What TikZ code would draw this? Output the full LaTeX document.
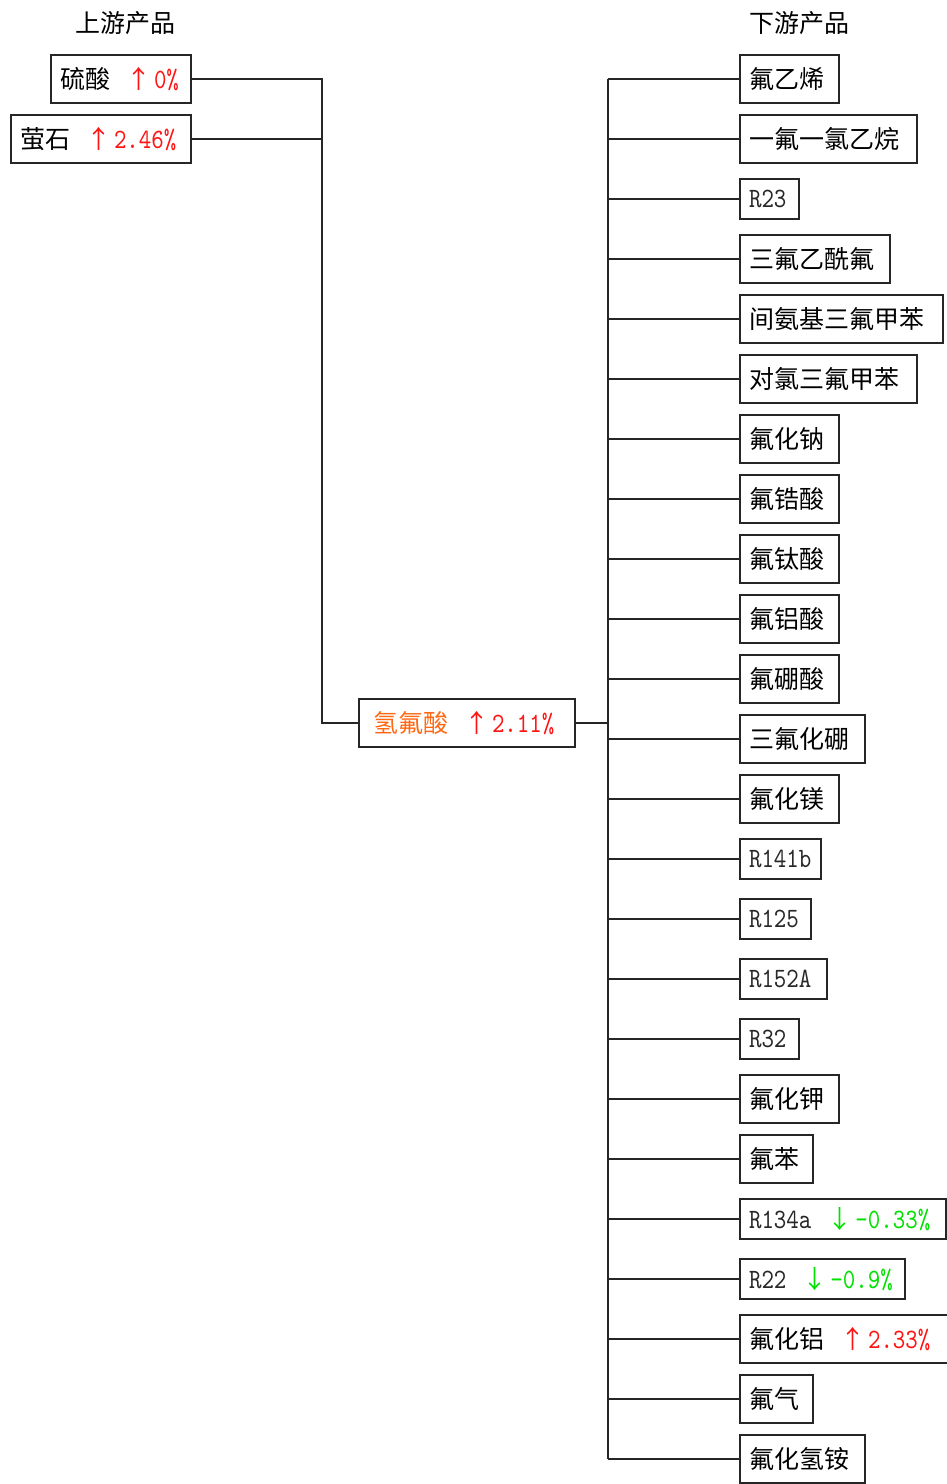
\documentclass[tikz,border=0pt]{standalone}
\usepackage{fontspec}
\setmainfont{Noto Sans CJK SC}
\newfontfamily\latfont[FakeStretch=0.85]{lmmono10-regular.otf}
\definecolor{upred}{RGB}{255,20,20}
\definecolor{dngreen}{RGB}{0,225,0}
\definecolor{hforange}{RGB}{255,105,20}
\definecolor{latgray}{RGB}{40,40,40}
\newcommand\lt[1]{{\latfont\fontsize{28}{30}\selectfont\color{latgray}#1}}
\newcommand\upchg[1]{\hspace{22pt}\makebox[14pt]{\color{upred}↑}\hspace{8pt}{\latfont\fontsize{28}{30}\selectfont\color{upred}#1}}
\newcommand\dnchg[1]{\hspace{22pt}\makebox[14pt]{\color{dngreen}↓}\hspace{8pt}{\latfont\fontsize{28}{30}\selectfont\color{dngreen}#1}}
\begin{document}
\begin{tikzpicture}[x=1pt,y=-1pt,
  font=\fontsize{25}{30}\selectfont,
  box/.style={draw=black!85, line width=2pt, inner xsep=9pt, inner ysep=0pt, anchor=west, minimum height=48pt},
  lbox/.style={box, minimum height=40pt},
  link/.style={draw=black!85, line width=2pt}]
\useasboundingbox (0,0) rectangle (946,1484);
% titles
\node (t1) at (125,23) {上游产品};
\node (t2) at (799,23) {下游产品};
% upstream
\node[box] (s1) at (50,79) {\makebox[122pt][l]{硫酸\upchg{0\%}}};
\node[box] (s2) at (10,139) {\makebox[162pt][l]{萤石\upchg{2.46\%}}};
% center
\node[box, inner xsep=14pt] (hf) at (358,723) {\makebox[188pt][l]{{\color{hforange}氢氟酸}\upchg{2.11\%}}};
% downstream
\node[box]  (d1)  at (739,79)   {\makebox[81pt][l]{氟乙烯}};
\node[box]  (d2)  at (739,139)  {\makebox[159pt][l]{一氟一氯乙烷}};
\node[lbox] (d3)  at (739,199)  {\makebox[41pt][l]{\lt{R23}}};
\node[box]  (d4)  at (739,259)  {\makebox[132pt][l]{三氟乙酰氟}};
\node[box]  (d5)  at (739,319)  {\makebox[185pt][l]{间氨基三氟甲苯}};
\node[box]  (d6)  at (739,379)  {\makebox[159pt][l]{对氯三氟甲苯}};
\node[box]  (d7)  at (739,439)  {\makebox[81pt][l]{氟化钠}};
\node[box]  (d8)  at (739,499)  {\makebox[81pt][l]{氟锆酸}};
\node[box]  (d9)  at (739,559)  {\makebox[81pt][l]{氟钛酸}};
\node[box]  (d10) at (739,619)  {\makebox[81pt][l]{氟铝酸}};
\node[box]  (d11) at (739,679)  {\makebox[81pt][l]{氟硼酸}};
\node[box]  (d12) at (739,739)  {\makebox[107pt][l]{三氟化硼}};
\node[box]  (d13) at (739,799)  {\makebox[81pt][l]{氟化镁}};
\node[lbox] (d14) at (739,859)  {\makebox[63pt][l]{\lt{R141b}}};
\node[lbox] (d15) at (739,919)  {\makebox[53pt][l]{\lt{R125}}};
\node[lbox] (d16) at (739,979)  {\makebox[69pt][l]{\lt{R152A}}};
\node[lbox] (d17) at (739,1039) {\makebox[41pt][l]{\lt{R32}}};
\node[box]  (d18) at (739,1099) {\makebox[81pt][l]{氟化钾}};
\node[box]  (d19) at (739,1159) {\makebox[55pt][l]{氟苯}};
\node[lbox] (d20) at (739,1219) {\makebox[188pt][l]{\lt{R134a}\dnchg{-0.33\%}}};
\node[lbox] (d21) at (739,1279) {\makebox[147pt][l]{\lt{R22}\dnchg{-0.9\%}}};
\node[box]  (d22) at (739,1339) {\makebox[192pt][l]{氟化铝\upchg{2.33\%}}};
\node[box]  (d23) at (739,1399) {\makebox[55pt][l]{氟气}};
\node[box]  (d24) at (739,1459) {\makebox[107pt][l]{氟化氢铵}};
% connectors: upstream
\coordinate (join) at (322,723);
\draw[link] (s1.east) -| (join) -- (hf.west);
\draw[link] (s2.east) -- (join |- s2.east);
% connectors: downstream
\coordinate (trunk) at (608,723);
\draw[link] (hf.east) -- (trunk);
\draw[link] (trunk |- d1.west) -- (trunk |- d24.west);
\foreach \k in {1,...,24} {
  \draw[link] (trunk |- d\k.west) -- (d\k.west);
}
\end{tikzpicture}
\end{document}
